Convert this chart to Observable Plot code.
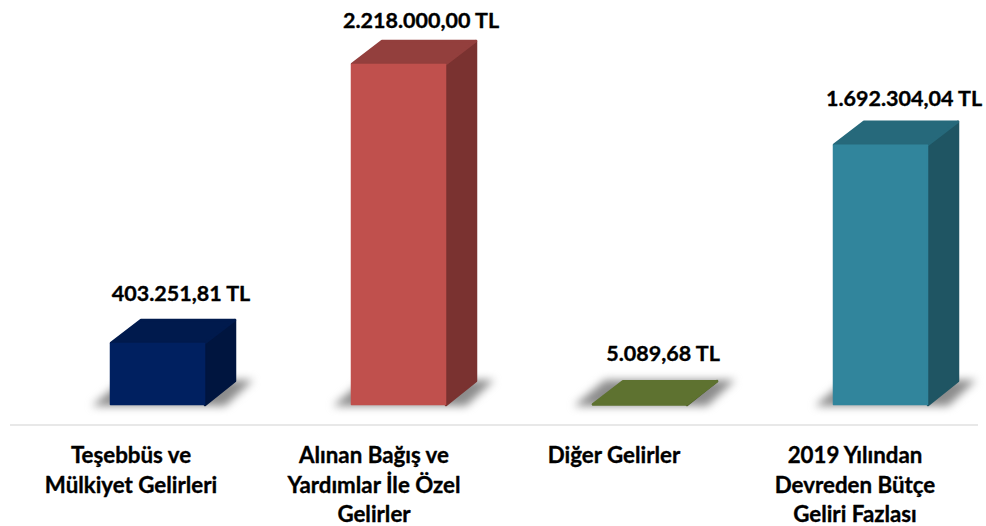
<!DOCTYPE html>
<html><head><meta charset="utf-8">
<script src="https://cdn.jsdelivr.net/npm/d3@7"></script>
<script src="https://cdn.jsdelivr.net/npm/@observablehq/plot@0.6"></script>
<style>html,body{margin:0;padding:0;background:#fff}svg{display:block}</style>
</head><body><div id="chart"></div>
<script>
const categories = ["Teşebbüs ve\nMülkiyet Gelirleri", "Alınan Bağış ve\nYardımlar İle Özel\nGelirler", "Diğer Gelirler", "2019 Yılından\nDevreden Bütçe\nGeliri Fazlası"];
const values = [403251.81, 2218000.00, 5089.68, 1692304.04];
const valueLabels = ["403.251,81 TL", "2.218.000,00 TL", "5.089,68 TL", "1.692.304,04 TL"];
const frontColors = ["#002060", "#C0504D", "#5E7230", "#31859C"];
const topColors = ["#001A4D", "#933F3D", "#5E7230", "#26697B"];
const sideColors = ["#00153F", "#7A3230", "#4B5C26", "#1F5563"];

const labelOffsets = [[23, -25], [22, -19], [23, -27], [23, -22]];
const nameOffsets = [-27, -25, -26, -26];
const DX = 31, DY = -24;

const rows = categories.map((name, i) => ({name, value: values[i], label: valueLabels[i], i}));

// Replaces each bar rect with a polygon derived from the bar's scaled position
function face(shape, extra = {}) {
  return function(index, scales, channels, dims, ctx, next) {
    const g = next(index, scales, channels, dims, ctx);
    d3.select(g).selectAll("rect").each(function() {
      const r = d3.select(this);
      const x = +r.attr("x"), y = +r.attr("y"), w = +r.attr("width"), h = +r.attr("height");
      const pts = shape(x, y, w, h);
      const p = d3.select(this.parentNode).insert("path", () => this)
        .attr("d", "M" + pts.join("L") + "Z").attr("fill", r.attr("fill"));
      if (extra.round) p.attr("stroke", r.attr("fill")).attr("stroke-width", extra.round).attr("stroke-linejoin", "round");
      r.remove();
    });
    return g;
  };
}
const bar = (fill, render, opts = {}) => Plot.barY(rows, {x: "name", y: "value", fill, render, ...opts});

const chart = Plot.plot({
  width: 986, height: 526,
  marginLeft: 10, marginRight: 8, marginTop: 0, marginBottom: 0,
  x: {domain: categories, range: [109, 930], paddingInner: 0.605, paddingOuter: 0, axis: null},
  y: {domain: [0, 2218000], range: [405, 64], axis: null},
  color: {type: "identity"},
  style: {fontFamily: "Lato, 'Open Sans', sans-serif", background: "#fff"},
  marks: [
    bar(d => "#8c8c8c", face((x, y, w, h) => {
      const b = y + h;
      return [[x - 18, b + 1], [x + 13, b - 25], [x + w + 48, b - 25], [x + w + 20, b + 1]];
    }), {imageFilter: "blur(4px)"}),
    bar(d => sideColors[d.i], face((x, y, w, h) => [[x + w, y], [x + w + DX - 1, y + DY + 1], [x + w + DX - 1, y + h + DY], [x + w, y + h]], {round: 2.5})),
    bar(d => topColors[d.i], face((x, y, w, h) => [[x + 1, y], [x + DX, y + DY + 1], [x + w + DX - 1, y + DY + 1], [x + w, y]], {round: 2.5})),
    bar(d => frontColors[d.i], face((x, y, w, h) => [[x + .5, y + .5], [x + w - .5, y + .5], [x + w - .5, y + h - .5], [x + .5, y + h - .5]], {round: 1.5})),
    Plot.ruleY([0], {dy: 19.5, stroke: "#e8e8e8", strokeWidth: 2}),
    ...rows.map((r, i) => Plot.text([r], {
      x: "name", y: "value", text: "label", dx: labelOffsets[i][0], dy: labelOffsets[i][1] + DY,
      fontSize: 21.5, fontWeight: 700, fill: "#000", stroke: "#000", strokeWidth: 0.35
    })),
    ...rows.map((r, i) => Plot.text([r], {
      x: "name", y: () => 0, text: "name", dx: nameOffsets[i], dy: 37, lineAnchor: "top", lineHeight: 1.32,
      fontSize: 22.3, fontWeight: 700, fill: "#000", stroke: "#000", strokeWidth: 0.35
    }))
  ]
});
document.getElementById("chart").append(chart);
</script></body></html>
